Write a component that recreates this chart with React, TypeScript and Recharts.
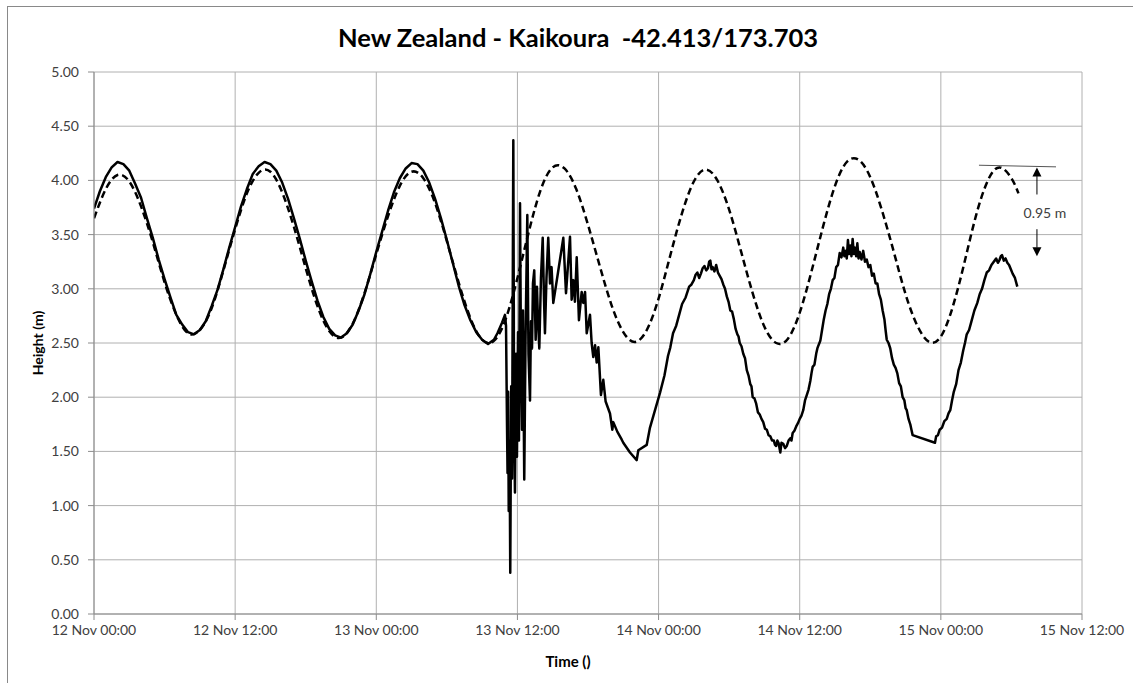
import React from 'react';
import {
  LineChart,
  Line,
  XAxis,
  YAxis,
  CartesianGrid,
  ReferenceLine,
  ReferenceDot,
} from 'recharts';

// ---- axis definitions ----
const xTickHours = [0, 12, 24, 36, 48, 60, 72, 84];
const xTickLabels = [
  '12 Nov 00:00',
  '12 Nov 12:00',
  '13 Nov 00:00',
  '13 Nov 12:00',
  '14 Nov 00:00',
  '14 Nov 12:00',
  '15 Nov 00:00',
  '15 Nov 12:00',
];
const yTicks = [0, 0.5, 1, 1.5, 2, 2.5, 3, 3.5, 4, 4.5, 5];

// ---- predicted tide (dashed), hours since 12 Nov 00:00 ----
const predictedHours = [
  0, 1, 2, 3, 4, 5, 6, 7, 8, 9, 10, 11, 12, 13, 14, 15, 16, 17, 18, 19,
  20, 21, 22, 23, 24, 25, 26, 27, 28, 29, 30, 31, 32, 33, 34, 35, 36, 37, 38, 39,
  40, 41, 42, 43, 44, 45, 46, 47, 48, 49, 50, 51, 52, 53, 54, 55, 56, 57, 58, 59,
  60, 61, 62, 63, 64, 65, 66, 67, 68, 69, 70, 71, 72, 73, 74, 75, 76, 77, 78, 78.6,
];
const predictedHeights = [
  3.65, 3.92, 4.05, 3.99, 3.76, 3.43, 3.06, 2.76, 2.59, 2.62, 2.82, 3.17, 3.55, 3.88, 4.07, 4.08, 3.89, 3.57, 3.19, 2.84,
  2.61, 2.55, 2.68, 2.96, 3.32, 3.67, 3.95, 4.08, 4.02, 3.79, 3.44, 3.06, 2.73, 2.53, 2.52, 2.72, 3.10, 3.54, 3.92, 4.12,
  4.11, 3.92, 3.59, 3.21, 2.85, 2.60, 2.51, 2.62, 2.91, 3.31, 3.70, 3.99, 4.10, 4.00, 3.73, 3.35, 2.96, 2.65, 2.50, 2.54,
  2.78, 3.16, 3.58, 3.95, 4.17, 4.19, 4.03, 3.72, 3.34, 2.95, 2.66, 2.51, 2.56, 2.83, 3.24, 3.68, 4.00, 4.12, 4.02, 3.88,
];

// ---- observed sea level (solid), [hour, height] ----
const observedBeforeQuake: [number, number][] = [
  [0, 3.74], [0.5, 3.9], [1, 4.03], [1.5, 4.12], [2, 4.17], [2.5, 4.15], [3, 4.09], [3.5, 3.97],
  [4, 3.84], [4.5, 3.65], [5, 3.47], [5.5, 3.27], [6, 3.09], [6.5, 2.92], [7, 2.76], [7.5, 2.67],
  [8, 2.6], [8.5, 2.58], [9, 2.62], [9.5, 2.7], [10, 2.84], [10.5, 2.99], [11, 3.18], [11.5, 3.38],
  [12, 3.57], [12.5, 3.76], [13, 3.92], [13.5, 4.06], [14, 4.13], [14.5, 4.17], [15, 4.15], [15.5, 4.09],
  [16, 3.98], [16.5, 3.83], [17, 3.65], [17.5, 3.46], [18, 3.26], [18.5, 3.07], [19, 2.89], [19.5, 2.74],
  [20, 2.63], [20.5, 2.57], [21, 2.55], [21.5, 2.59], [22, 2.67], [22.5, 2.8], [23, 2.95], [23.5, 3.14],
  [24, 3.34], [24.5, 3.53], [25, 3.72], [25.5, 3.89], [26, 4.02], [26.5, 4.11], [27, 4.16], [27.5, 4.15],
  [28, 4.09], [28.5, 3.98], [29, 3.83], [29.5, 3.65], [30, 3.45], [30.5, 3.24], [31, 3.03], [31.5, 2.85],
  [32, 2.71], [32.5, 2.6], [33, 2.53], [33.5, 2.49], [34, 2.53], [34.3, 2.59], [34.7, 2.69], [34.94, 2.76],
];
const observedQuake: [number, number][] = [
  [35.03, 2.66], [35.11, 1.78], [35.16, 1.3], [35.21, 2.05], [35.26, 0.95], [35.33, 1.6], [35.39, 0.38],
  [35.47, 2.1], [35.54, 1.25], [35.65, 4.37], [35.72, 1.75], [35.79, 1.12], [35.88, 2.4], [35.96, 1.45],
  [36.05, 2.6], [36.13, 1.6], [36.22, 3.79], [36.3, 2.4], [36.39, 1.7], [36.47, 2.8], [36.58, 1.24],
  [36.69, 2.55], [36.84, 3.68], [36.94, 2.4], [37.07, 1.97], [37.15, 2.7], [37.24, 2.45], [37.32, 3.05],
  [37.43, 3.17], [37.55, 2.53], [37.66, 3.02], [37.75, 2.7], [37.86, 2.45], [38.0, 3.1], [38.15, 3.47],
  [38.26, 2.9], [38.34, 2.59], [38.47, 3.1], [38.62, 3.47], [38.77, 3.05], [38.9, 3.2], [39.05, 2.87],
  [39.45, 3.15], [39.9, 3.47], [40.13, 2.96], [40.47, 3.48], [40.61, 2.9], [40.75, 3.08], [40.89, 2.88],
  [41.04, 3.29], [41.23, 2.71], [41.46, 2.97], [41.6, 2.87], [41.75, 2.97], [41.89, 2.59], [42.17, 2.76],
  [42.31, 2.5], [42.45, 2.37], [42.6, 2.48], [42.74, 2.32], [42.88, 2.46], [43.1, 2.02], [43.3, 2.16],
  [43.5, 1.96], [43.87, 1.85], [44.07, 1.7], [44.15, 1.77], [44.5, 1.68], [44.86, 1.61], [45.0, 1.58],
  [45.57, 1.49], [46.14, 1.42], [46.28, 1.51], [46.99, 1.56], [47.27, 1.72], [48.12, 2.04], [48.5, 2.2],
  [48.8, 2.38], [49.0, 2.46], [49.23, 2.59], [49.5, 2.66], [49.8, 2.78], [50.0, 2.86], [50.3, 2.92],
  [50.6, 3.02], [50.8, 3.04],
];
const observedAfterQuake: [number, number][] = [
  [51.0, 3.08], [51.15, 3.13], [51.3, 3.15], [51.45, 3.1], [51.6, 3.14], [51.75, 3.19], [51.9, 3.21], [52.05, 3.17],
  [52.2, 3.19], [52.3, 3.25], [52.4, 3.26], [52.5, 3.18], [52.6, 3.2], [52.75, 3.16], [52.9, 3.22], [53.05, 3.15],
  [53.2, 3.12], [53.35, 3.09], [53.5, 3.04], [53.65, 3.0], [53.8, 2.93], [53.95, 2.88], [54.1, 2.8], [54.25, 2.79],
  [54.4, 2.72], [54.55, 2.63], [54.7, 2.58], [54.8, 2.56], [54.9, 2.5], [55.05, 2.47], [55.2, 2.4], [55.35, 2.36],
  [55.5, 2.25], [55.65, 2.2], [55.8, 2.12], [55.9, 2.1], [56.0, 2.0], [56.15, 1.99], [56.3, 1.94], [56.45, 1.86],
  [56.6, 1.84], [56.75, 1.8], [56.9, 1.77], [57.05, 1.71], [57.2, 1.7], [57.35, 1.65], [57.5, 1.64], [57.65, 1.6],
  [57.8, 1.6], [57.9, 1.56], [58.0, 1.55], [58.1, 1.6], [58.2, 1.58], [58.35, 1.49], [58.45, 1.58], [58.6, 1.57],
  [58.75, 1.53], [58.9, 1.55], [59.05, 1.6], [59.2, 1.62], [59.3, 1.6], [59.4, 1.67], [59.55, 1.69], [59.7, 1.73],
  [59.85, 1.76], [60.0, 1.8], [60.15, 1.83], [60.3, 1.88], [60.45, 1.97], [60.6, 2.02], [60.75, 2.07], [60.9, 2.15],
  [61.0, 2.22], [61.1, 2.28], [61.25, 2.3], [61.4, 2.4], [61.5, 2.45], [61.6, 2.48], [61.75, 2.52], [61.9, 2.62],
  [62.05, 2.72], [62.2, 2.8], [62.35, 2.86], [62.5, 2.95], [62.65, 3.0], [62.8, 3.08], [62.95, 3.1], [63.1, 3.2],
  [63.25, 3.22], [63.4, 3.33], [63.55, 3.29], [63.7, 3.38], [63.8, 3.3], [63.9, 3.35], [64.0, 3.28], [64.1, 3.45],
  [64.2, 3.32], [64.3, 3.4], [64.4, 3.3], [64.5, 3.46], [64.6, 3.32], [64.7, 3.38], [64.8, 3.3], [64.9, 3.42],
  [65.0, 3.28], [65.1, 3.34], [65.25, 3.27], [65.4, 3.35], [65.55, 3.25], [65.7, 3.27], [65.85, 3.2], [66.0, 3.22],
  [66.15, 3.12], [66.3, 3.14], [66.45, 3.05], [66.6, 3.05], [66.75, 2.95], [66.9, 2.9], [67.05, 2.8], [67.2, 2.72],
  [67.3, 2.62], [67.4, 2.53], [67.55, 2.5], [67.7, 2.45], [67.85, 2.36], [68.0, 2.3], [68.15, 2.27], [68.3, 2.22],
  [68.45, 2.13], [68.6, 2.1], [68.75, 2.0], [68.9, 1.97], [69.0, 1.9], [69.1, 1.88], [69.25, 1.8], [69.4, 1.75],
  [69.5, 1.7], [69.6, 1.65], [71.5, 1.58], [71.6, 1.64], [71.75, 1.65], [71.9, 1.7], [72.1, 1.72], [72.3, 1.78],
  [72.5, 1.8], [72.65, 1.85], [72.8, 1.88], [72.95, 1.97], [73.1, 2.05], [73.3, 2.12], [73.5, 2.25], [73.7, 2.32],
  [73.9, 2.43], [74.05, 2.5], [74.2, 2.58], [74.4, 2.62], [74.6, 2.7], [74.85, 2.8], [75.1, 2.87], [75.3, 2.95],
  [75.5, 3.0], [75.7, 3.08], [75.9, 3.15], [76.1, 3.17], [76.3, 3.22], [76.5, 3.25], [76.7, 3.28], [76.85, 3.24],
  [77.0, 3.27], [77.1, 3.3], [77.2, 3.31], [77.35, 3.26], [77.5, 3.28], [77.65, 3.24], [77.8, 3.22], [77.95, 3.18],
  [78.1, 3.14], [78.3, 3.1], [78.5, 3.02],
];

// ---- annotation (difference marker) ----
const markerLine: [number, number][] = [[75.24, 4.14], [81.79, 4.125]];
const arrowHour = 80.17;
const arrowUpShaft = [3.87, 4.04];
const arrowUpTip = 4.12;
const arrowDownShaft = [3.55, 3.38];
const arrowDownTip = 3.3;
const diffLabel = '0.95 m';
const diffLabelAt: [number, number] = [80.85, 3.7];

const predictedData = predictedHours.map((h, i) => ({ h, v: predictedHeights[i] }));
const observedData = [...observedBeforeQuake, ...observedQuake, ...observedAfterQuake].map(([h, v]) => ({ h, v }));

const FONT = 'Lato, "Open Sans", sans-serif';
const AXIS_GREY = '#8c8c8c';
const GRID_GREY = '#b0b0b0';

const UpHead = (p: any) => (
  <path d={`M${p.cx},${p.cy} L${p.cx - 4.5},${p.cy + 9} L${p.cx + 4.5},${p.cy + 9} Z`} fill="#000" />
);
const DownHead = (p: any) => (
  <path d={`M${p.cx},${p.cy} L${p.cx - 4.5},${p.cy - 9} L${p.cx + 4.5},${p.cy - 9} Z`} fill="#000" />
);
const DiffText = (p: any) => (
  <text x={p.cx} y={p.cy} textAnchor="middle" dominantBaseline="central" fontFamily={FONT} fontSize={14} fill="#404040">
    {diffLabel}
  </text>
);

export default function App() {
  return (
    <div style={{ position: 'absolute', left: 0, top: 0, width: 1133, height: 683, background: '#fff', overflow: 'hidden' }}>
      <div
        style={{
          position: 'absolute',
          left: 7,
          top: 6,
          width: 1200,
          height: 800,
          borderLeft: '1px solid #898989',
          borderTop: '1px solid #898989',
        }}
      />
      <div
        style={{
          position: 'absolute',
          left: 0,
          width: 1156,
          top: 22,
          textAlign: 'center',
          fontFamily: FONT,
          fontWeight: 700,
          fontSize: 25.5,
          whiteSpace: 'pre',
          color: '#000',
          lineHeight: '30px',
        }}
      >
        {'New Zealand - Kaikoura  -42.413/173.703'}
      </div>
      <div style={{ position: 'absolute', left: 0, top: 0 }}>
        <LineChart width={1133} height={683} margin={{ top: 72, right: 51, bottom: 39, left: 34 }}>
          <CartesianGrid stroke={GRID_GREY} strokeWidth={1} />
          <XAxis
            type="number"
            dataKey="h"
            domain={[0, 84]}
            ticks={xTickHours}
            tickFormatter={(v: number) => xTickLabels[xTickHours.indexOf(v)]}
            height={30}
            tickSize={6}
            tickMargin={5}
            stroke={AXIS_GREY}
            tick={{ fontFamily: FONT, fontSize: 14, fill: '#404040' }}
            label={{
              value: 'Time ()',
              position: 'insideBottom',
              offset: -23,
              dx: -20,
              style: { fontFamily: FONT, fontSize: 15, fontWeight: 700, fill: '#000' },
            }}
            allowDataOverflow
          />
          <YAxis
            type="number"
            domain={[0, 5]}
            ticks={yTicks}
            tickFormatter={(v: number) => v.toFixed(2)}
            width={60}
            tickSize={6}
            tickMargin={9}
            stroke={AXIS_GREY}
            tick={{ fontFamily: FONT, fontSize: 14, fill: '#404040' }}
            label={{
              value: 'Height (m)',
              angle: -90,
              position: 'insideLeft',
              offset: 4,
              style: { fontFamily: FONT, fontSize: 14, fontWeight: 700, fill: '#000', textAnchor: 'middle' },
            }}
            allowDataOverflow
          />
          <Line
            data={predictedData}
            dataKey="v"
            type="natural"
            stroke="#000"
            strokeWidth={2.5}
            strokeDasharray="7 4"
            dot={false}
            isAnimationActive={false}
          />
          <Line
            data={observedData}
            dataKey="v"
            type="linear"
            stroke="#000"
            strokeWidth={2.5}
            strokeLinejoin="round"
            dot={false}
            isAnimationActive={false}
          />
          <ReferenceLine
            segment={[{ x: markerLine[0][0], y: markerLine[0][1] }, { x: markerLine[1][0], y: markerLine[1][1] }]}
            stroke="#555"
            strokeWidth={1}
            ifOverflow="visible"
          />
          <ReferenceLine
            segment={[{ x: arrowHour, y: arrowUpShaft[0] }, { x: arrowHour, y: arrowUpShaft[1] }]}
            stroke="#000"
            strokeWidth={1}
            ifOverflow="visible"
          />
          <ReferenceLine
            segment={[{ x: arrowHour, y: arrowDownShaft[0] }, { x: arrowHour, y: arrowDownShaft[1] }]}
            stroke="#000"
            strokeWidth={1}
            ifOverflow="visible"
          />
          <ReferenceDot x={arrowHour} y={arrowUpTip} r={0} shape={UpHead} ifOverflow="visible" />
          <ReferenceDot x={arrowHour} y={arrowDownTip} r={0} shape={DownHead} ifOverflow="visible" />
          <ReferenceDot x={diffLabelAt[0]} y={diffLabelAt[1]} r={0} shape={DiffText} ifOverflow="visible" />
        </LineChart>
      </div>
    </div>
  );
}
